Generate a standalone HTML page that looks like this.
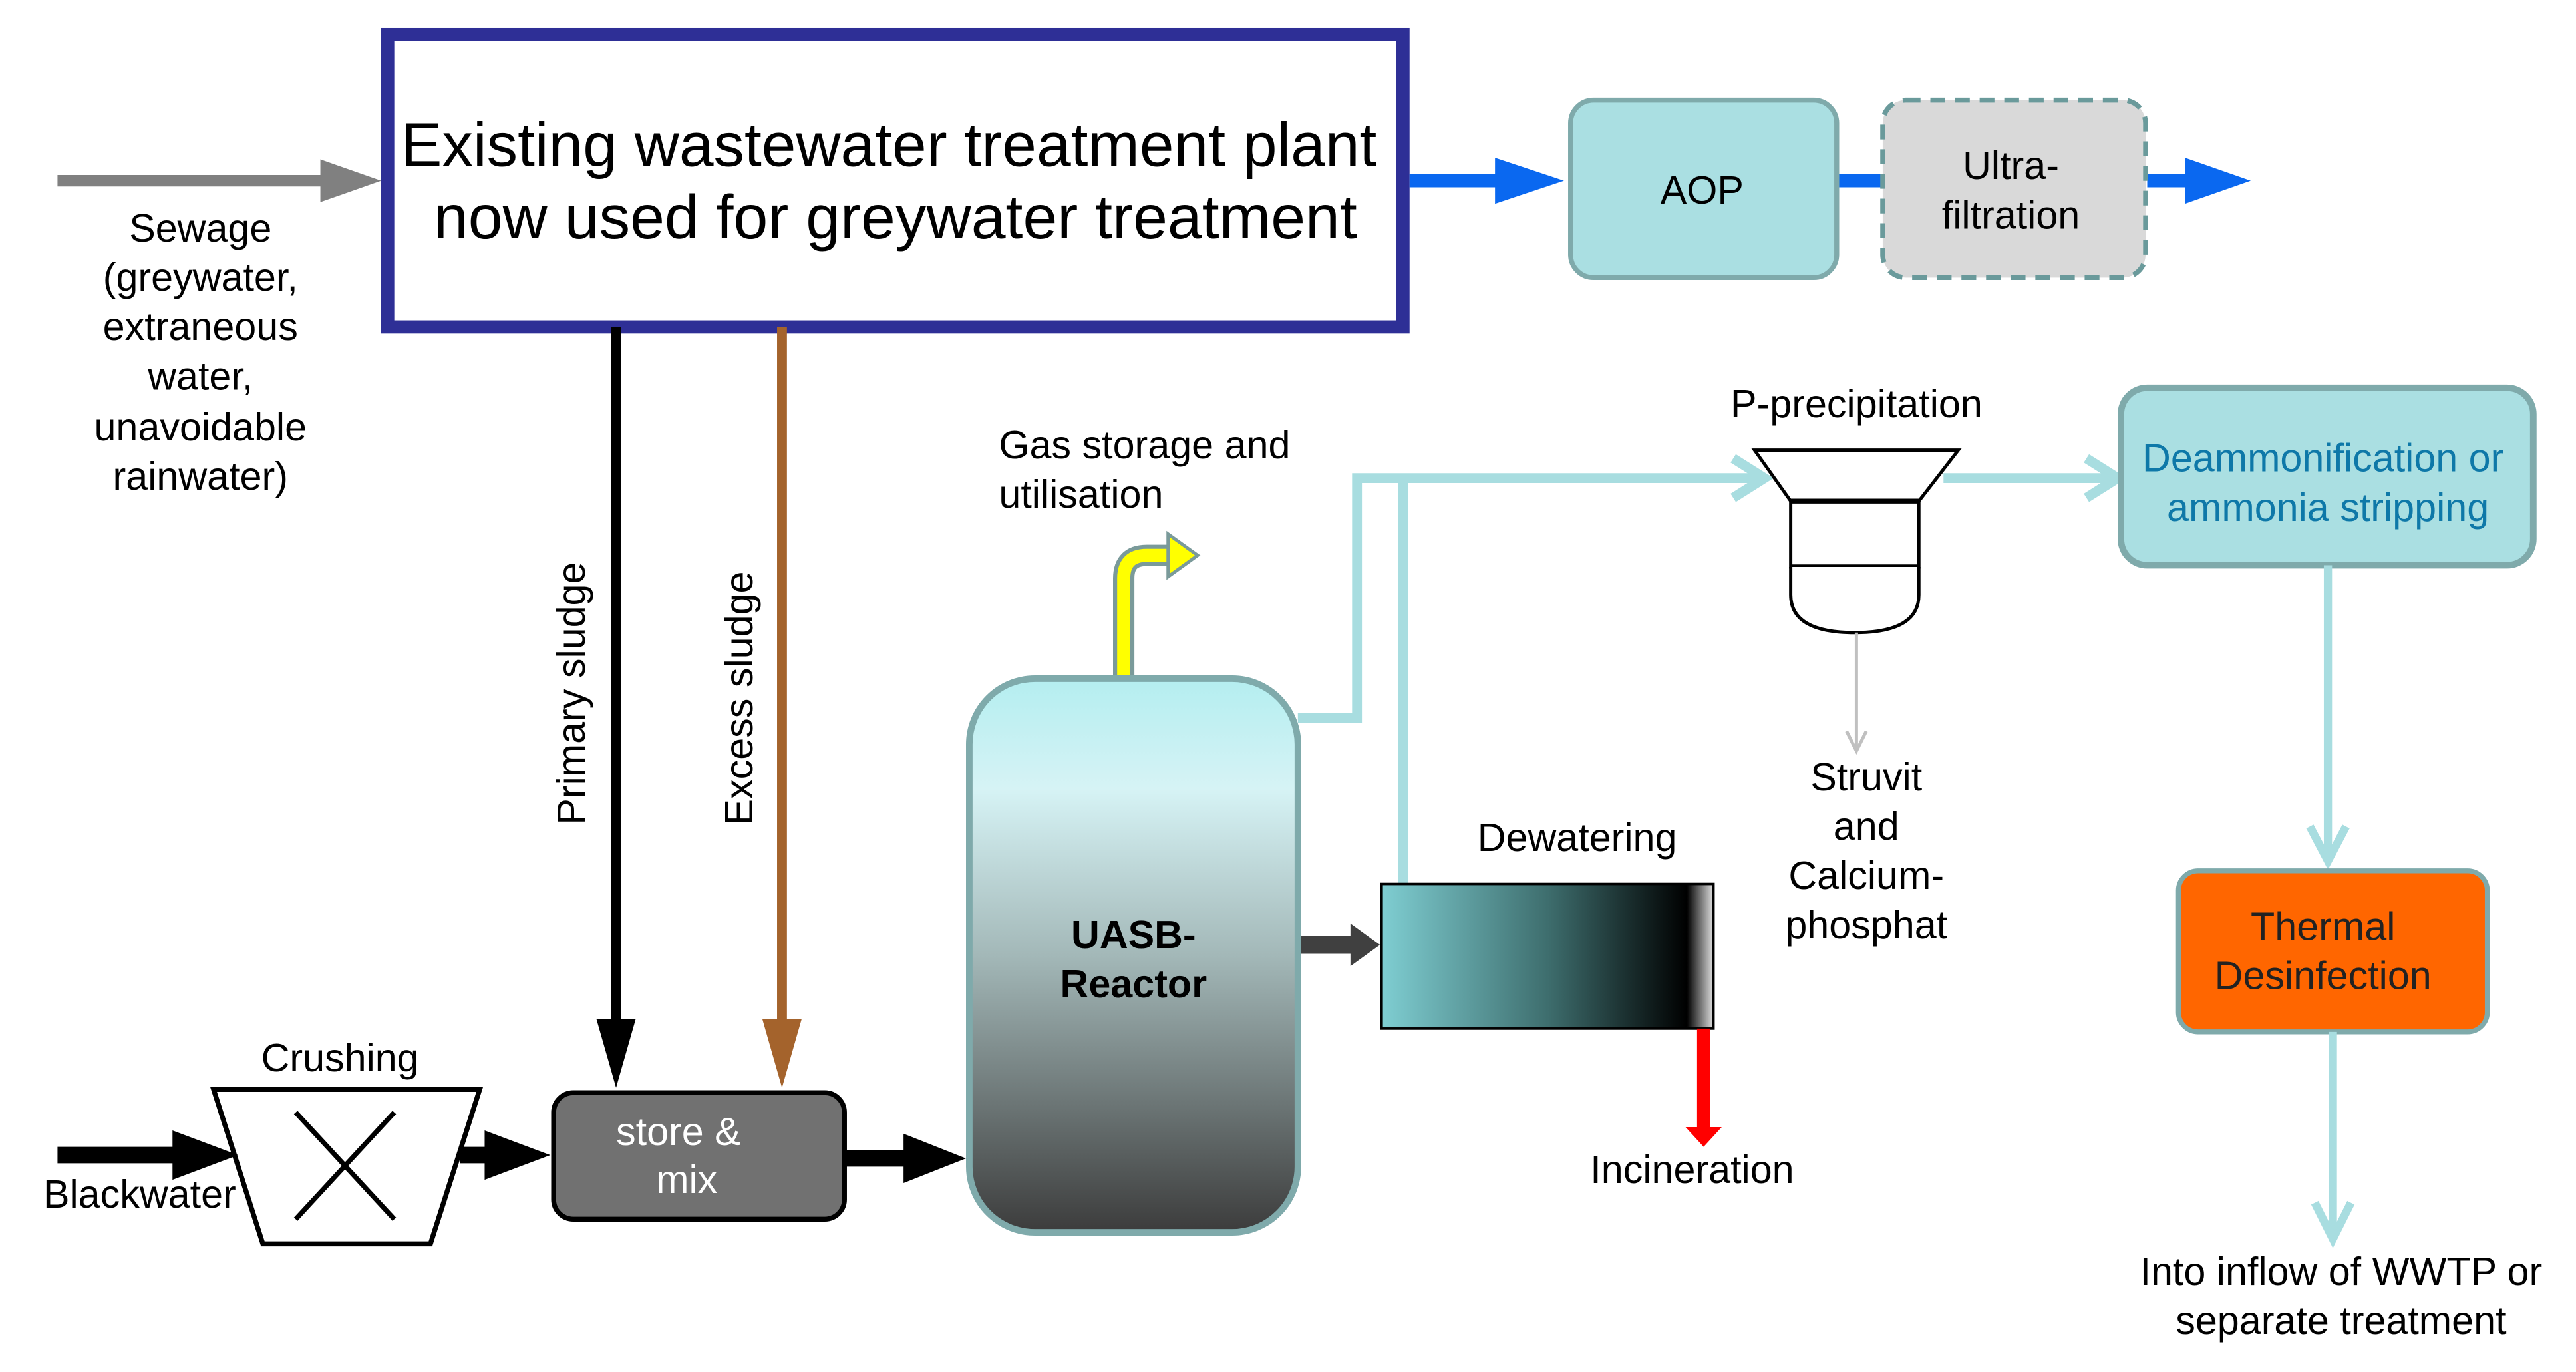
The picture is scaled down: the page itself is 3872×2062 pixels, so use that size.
<!DOCTYPE html>
<html><head><meta charset="utf-8"><style>html,body{margin:0;padding:0;background:#fff}svg{display:block}</style></head>
<body>
<svg width="3872" height="2062" viewBox="0 0 1568 835" preserveAspectRatio="none" xmlns="http://www.w3.org/2000/svg" font-family="Liberation Sans, Arial, sans-serif">
<defs>
<linearGradient id="uasb" x1="0" y1="0" x2="0" y2="1">
<stop offset="0" stop-color="#b4eef0"/><stop offset="0.2" stop-color="#d6f3f5"/><stop offset="0.5" stop-color="#a3b8b8"/><stop offset="1" stop-color="#3c3c3c"/></linearGradient>
<linearGradient id="dew" x1="0" y1="0" x2="1" y2="0">
<stop offset="0" stop-color="#7fced2"/><stop offset="0.5" stop-color="#3e6e6e"/><stop offset="0.92" stop-color="#000"/><stop offset="1" stop-color="#e0e0e0"/></linearGradient>
</defs>
<rect x="236" y="21" width="618" height="178" fill="#fff" stroke="#2e2f96" stroke-width="8"/>
<text x="541" y="101" font-size="37.5" text-anchor="middle" textLength="594" lengthAdjust="spacingAndGlyphs">Existing wastewater treatment plant</text>
<text x="545" y="145" font-size="37.5" text-anchor="middle" textLength="562" lengthAdjust="spacingAndGlyphs">now used for greywater treatment</text>
<line x1="35" y1="110" x2="200" y2="110" stroke="#808080" stroke-width="7"/>
<polygon points="195,97 232,110 195,123" fill="#808080"/>
<g font-size="24" text-anchor="middle">
<text x="122" y="147">Sewage</text><text x="122" y="177">(greywater,</text><text x="122" y="207">extraneous</text><text x="122" y="237">water,</text><text x="122" y="268">unavoidable</text><text x="122" y="298">rainwater)</text>
</g>
<line x1="858" y1="110" x2="915" y2="110" stroke="#0a68f0" stroke-width="8"/>
<polygon points="910,96 952,110 910,124" fill="#0a68f0"/>
<line x1="1118" y1="110" x2="1146" y2="110" stroke="#0a68f0" stroke-width="8"/>
<line x1="1307" y1="110" x2="1335" y2="110" stroke="#0a68f0" stroke-width="8"/>
<polygon points="1330,96 1370,110 1330,124" fill="#0a68f0"/>
<rect x="956" y="61" width="162" height="108" rx="14" fill="#aadfe2" stroke="#7faaab" stroke-width="3"/>
<text x="1036" y="124" font-size="24" text-anchor="middle">AOP</text>
<rect x="1146" y="61" width="160" height="108" rx="14" fill="#d9d9d9" stroke="#6a9a9b" stroke-width="3" stroke-dasharray="9,6"/>
<text x="1224" y="109" font-size="24" text-anchor="middle">Ultra-</text>
<text x="1224" y="139" font-size="24" text-anchor="middle">filtration</text>
<line x1="375" y1="199" x2="375" y2="625" stroke="#000" stroke-width="6"/>
<polygon points="363,620 387,620 375,662" fill="#000"/>
<line x1="476" y1="199" x2="476" y2="625" stroke="#a4632c" stroke-width="6"/>
<polygon points="464,620 488,620 476,662" fill="#a4632c"/>
<text transform="translate(356,422) rotate(-90)" font-size="24" text-anchor="middle">Primary sludge</text>
<text transform="translate(458,425) rotate(-90)" font-size="24" text-anchor="middle">Excess sludge</text>
<text x="207" y="652" font-size="24" text-anchor="middle">Crushing</text>
<polygon points="130,663 292,663 262,757 160,757" fill="#fff" stroke="#000" stroke-width="3"/>
<line x1="180" y1="677" x2="240" y2="742" stroke="#000" stroke-width="3"/>
<line x1="240" y1="677" x2="180" y2="742" stroke="#000" stroke-width="3"/>
<line x1="35" y1="703" x2="110" y2="703" stroke="#000" stroke-width="10"/>
<polygon points="105,688 145,703 105,718" fill="#000"/>
<text x="85" y="735" font-size="24" text-anchor="middle">Blackwater</text>
<line x1="280" y1="703" x2="300" y2="703" stroke="#000" stroke-width="10"/>
<polygon points="295,688 335,703 295,718" fill="#000"/>
<rect x="337" y="665" width="177" height="77" rx="12" fill="#717171" stroke="#000" stroke-width="3"/>
<text x="413" y="697" font-size="24" text-anchor="middle" fill="#fff">store &amp;</text>
<text x="418" y="726" font-size="24" text-anchor="middle" fill="#fff">mix</text>
<line x1="514" y1="705" x2="555" y2="705" stroke="#000" stroke-width="10"/>
<polygon points="550,690 588,705 550,720" fill="#000"/>
<path d="M684,412 V352 Q684,338 698,338 H712" fill="none" stroke="#7a9a9a" stroke-width="13"/>
<path d="M684,412 V352 Q684,338 698,338 H712" fill="none" stroke="#ffff00" stroke-width="8"/>
<polygon points="711,325 729,338 711,351" fill="#ffff00" stroke="#7a9a9a" stroke-width="2"/>
<text x="608" y="279" font-size="24">Gas storage and</text>
<text x="608" y="309" font-size="24">utilisation</text>
<polyline points="790,437 826,437 826,291 1070,291" fill="none" stroke="#a8dde0" stroke-width="6"/>
<polyline points="1055,279 1074,291 1055,303" fill="none" stroke="#a8dde0" stroke-width="6"/>
<line x1="854" y1="291" x2="854" y2="538" stroke="#a8dde0" stroke-width="6"/>
<rect x="590" y="413" width="200" height="337" rx="40" fill="url(#uasb)" stroke="#7faaab" stroke-width="4"/>
<text x="690" y="577" font-size="24" font-weight="bold" text-anchor="middle">UASB-</text>
<text x="690" y="607" font-size="24" font-weight="bold" text-anchor="middle">Reactor</text>
<line x1="792" y1="575" x2="825" y2="575" stroke="#404040" stroke-width="11"/>
<polygon points="822,562 840,575 822,588" fill="#404040"/>
<rect x="841" y="538" width="202" height="88" fill="url(#dew)" stroke="#000" stroke-width="1.5"/>
<text x="960" y="518" font-size="24" text-anchor="middle">Dewatering</text>
<line x1="1037" y1="626" x2="1037" y2="688" stroke="#ff0000" stroke-width="8"/>
<polygon points="1026,686 1048,686 1037,698" fill="#ff0000"/>
<text x="1030" y="720" font-size="24" text-anchor="middle">Incineration</text>
<text x="1130" y="254" font-size="24" text-anchor="middle">P-precipitation</text>
<polygon points="1068,274 1192,274 1168,305 1090,305" fill="#fff" stroke="#000" stroke-width="2"/>
<path d="M1090,305 H1168 V345 H1090 Z" fill="#fff" stroke="#000" stroke-width="2"/>
<line x1="1090" y1="305" x2="1168" y2="305" stroke="#000" stroke-width="3"/>
<line x1="1090" y1="345" x2="1168" y2="345" stroke="#000" stroke-width="3"/>
<path d="M1090,345 V362 Q1090,385 1129,385 Q1168,385 1168,362 V345" fill="#fff" stroke="#000" stroke-width="2"/>
<line x1="1130" y1="385" x2="1130" y2="455" stroke="#c0c0c0" stroke-width="2"/>
<polyline points="1124,445 1130,457 1136,445" fill="none" stroke="#c0c0c0" stroke-width="2"/>
<g font-size="24" text-anchor="middle"><text x="1136" y="481">Struvit</text><text x="1136" y="511">and</text><text x="1136" y="541">Calcium-</text><text x="1136" y="571">phosphat</text></g>
<line x1="1183" y1="291" x2="1286" y2="291" stroke="#a8dde0" stroke-width="6"/>
<polyline points="1270,279 1289,291 1270,303" fill="none" stroke="#a8dde0" stroke-width="6"/>
<rect x="1291" y="236" width="251" height="108" rx="16" fill="#aadfe2" stroke="#7faaab" stroke-width="4"/>
<text x="1414" y="287" font-size="24" text-anchor="middle" fill="#0e78a8">Deammonification or</text>
<text x="1417" y="317" font-size="24" text-anchor="middle" fill="#0e78a8">ammonia stripping</text>
<line x1="1417" y1="344" x2="1417" y2="522" stroke="#a8dde0" stroke-width="5"/>
<polyline points="1406,503 1417,524 1428,503" fill="none" stroke="#a8dde0" stroke-width="5"/>
<rect x="1326" y="530" width="188" height="98" rx="12" fill="#ff6600" stroke="#7faaab" stroke-width="3"/>
<text x="1414" y="572" font-size="24" text-anchor="middle" fill="#222">Thermal</text>
<text x="1414" y="602" font-size="24" text-anchor="middle" fill="#222">Desinfection</text>
<line x1="1420" y1="628" x2="1420" y2="752" stroke="#a8dde0" stroke-width="5"/>
<polyline points="1409,732 1420,754 1431,732" fill="none" stroke="#a8dde0" stroke-width="5"/>
<text x="1425" y="782" font-size="24" text-anchor="middle">Into inflow of WWTP or</text>
<text x="1425" y="812" font-size="24" text-anchor="middle">separate treatment</text>
</svg>
</body></html>
